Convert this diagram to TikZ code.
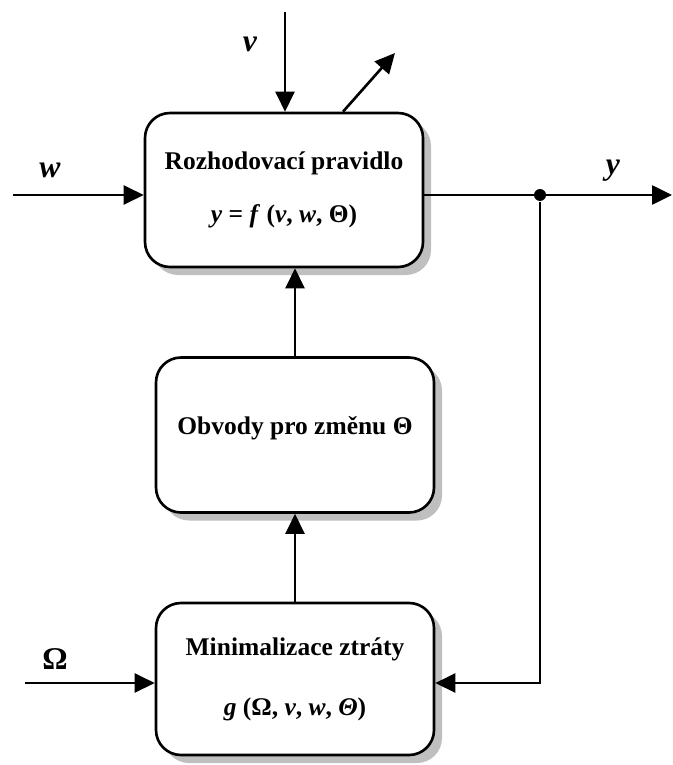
\documentclass[tikz,border=0pt]{standalone}
\usepackage{fontspec}
\setmainfont{Liberation Serif}
\usetikzlibrary{positioning,arrows.meta,calc,shadows}

\begin{document}
\begin{tikzpicture}[font=\fontsize{14.5}{17}\selectfont\bfseries, >={Triangle[length=4mm,width=3.8mm]}, line width=1.5pt,
  blok/.style={draw,rounded corners=0.5cm,fill=white,minimum width=5.56cm,align=center,
    drop shadow={shadow xshift=0.16cm,shadow yshift=-0.16cm,fill=black!25,opacity=1}},
  popis/.style={font=\fontsize{18}{20}\selectfont\bfseries}]
  \useasboundingbox (0,0) rectangle (13.44,-15.3);
  \def\yA{-3.9} \def\yC{-13.66}
  % bloky
  \node[blok,minimum height=3.08cm] (rp) at (5.68,-3.8) {Rozhodovací pravidlo\\[4.6mm]\textit{y} = \textit{f} (\textit{v}, \textit{w}, Θ)};
  \node[blok,minimum height=3.1cm] (ob) at (5.9,-8.7) {Obvody pro změnu Θ\\[-2mm]};
  \node[blok,minimum height=3.04cm] (mz) at (5.9,-13.58) {Minimalizace ztráty\\[6mm]\textit{g} (Ω, \textit{v}, \textit{w}, \textit{Θ})};
  % vstupy a vystupy
  \coordinate (vin) at (5.7,-0.24);
  \coordinate (vout) at (7.9,-1.06);
  \coordinate (win) at (0.26,\yA);
  \coordinate (yout) at (13.44,\yA);
  \coordinate (omin) at (0.5,\yC);
  \node[circle,fill,inner sep=0pt,minimum size=2.4mm] (dot) at (10.8,\yA) {};
  \node[popis] (lv) at (5.0,-0.88) {\textit{v}};
  \node[popis] (lw) at (1.0,-3.4) {\textit{w}};
  \node[popis] (ly) at (12.26,-3.42) {\textit{y}};
  \node[popis] (lo) at (1.1,-13.18) {Ω};
  \draw[->] (vin) -- (vin |- rp.north);
  \draw[->] ($(rp.north)+(1.18,0)$) -- (vout);
  \draw[->] (win) -- (win -| rp.west);
  \draw[->] (win -| rp.east) -- (yout);
  \draw[->] (dot) |- (mz.east |- 0,\yC);
  \draw[->] (omin) -- (omin -| mz.west);
  \draw[->] (ob.north) -- (ob.north |- rp.south);
  \draw[->] (mz.north) -- (ob.south);
\end{tikzpicture}
\end{document}
